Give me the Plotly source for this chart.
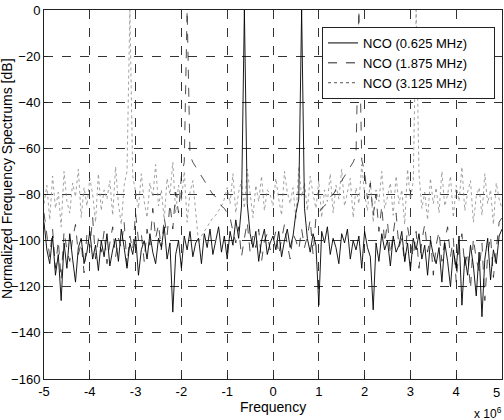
import numpy as np
import plotly.graph_objects as go

# frequency bins (Hz), step 62.5 kHz from -5 MHz to 5 MHz
freq_step_hz = 62500
n_bins = 161
freq_hz = [(-5e6 + i * freq_step_hz) for i in range(n_bins)]

nco_0625 = [
    -92, -104, -110, -98, -115, -106, -126, -101, -112, -97, -108, -118, -103, -99, -110, -105, -96, -108, -102, -113,
    -100, -107, -97, -111, -104, -99, -109, -95, -103, -112, -101, -106, -98, -115, -104, -100, -108, -97, -105, -110,
    -99, -103, -94, -108, -101, -131, -106, -100, -112, -98, -104, -96, -107, -101, -99, -110, -97, -103, -95, -106,
    -100, -94, -105, -98, -108, -96, -102, -91, -99, -85, 0, -84, -97, -103, -96, -109, -100, -95, -106, -101,
    -98, -104, -96, -107, -100, -95, -103, -98, -88, -82, 0, -86, -99, -105, -97, -102, -128, -96, -101, -94,
    -106, -99, -103, -110, -97, -101, -95, -108, -100, -104, -98, -112, -96, -103, -107, -130, -101, -109, -97, -104,
    -100, -111, -98, -105, -102, -96, -109, -101, -113, -99, -104, -97, -108, -102, -115, -100, -106, -110, -103, -118,
    -101, -109, -120, -104, -112, -98, -128, -107, -115, -102, -111, -124, -105, -133, -108, -99, -117, -104, -110, -98, -95,
]

nco_1875 = [
    -88, -98, -107, -95, -112, -100, -117, -96, -104, -109, -99, -93, -106, -101, -114, -97, -103, -90, -108, -99,
    -105, -96, -110, -101, -94, -107, -99, -103, -92, -111, -98, -104, -88, -100, -97, -109, -95, -102, -86, -99,
    -93, -104, -90, -98, -84, -95, -79, -88, -72, -66, 0, -63, -66, -68, -70, -72, -74, -76, -78, -80,
    -81, -83, -85, -86, -88, -90, -96, -101, -94, -107, -99, -92, -105, -98, -103, -95, -109, -100, -97, -104,
    -101, -96, -106, -99, -93, -102, -108, -97, -100, -104, -95, -103, -98, -91, -106, -90, -88, -86, -85, -83,
    -81, -80, -78, -76, -74, -72, -70, -68, -66, -63, 0, -65, -70, -82, -75, -89, -80, -96, -85, -101,
    -92, -106, -97, -88, -103, -99, -110, -94, -101, -107, -96, -112, -100, -93, -105, -98, -115, -102, -96, -109,
    -100, -94, -107, -99, -118, -103, -97, -111, -105, -121, -99, -108, -113, -101, -126, -106, -98, -116, -104, -92, -90,
]

nco_3125 = [
    -84, -76, -91, -72, -86, -79, -94, -70, -83, -88, -75, -81, -69, -90, -77, -85, -73, -80, -92, -71,
    -87, -78, -82, -74, -89, -68, -84, -93, -76, -70, 0, -72, -79, -86, -71, -83, -90, -75, -81, -67,
    -85, -78, -91, -73, -80, -66, -88, -76, -83, -70, -92, -79, -74, -86, -101, -98, -96, -94, -92, -90,
    -89, -87, -85, -82, -77, -84, -71, -88, -79, -74, -86, -69, -81, -90, -76, -83, -72, -87, -78, -80,
    -85, -73, -82, -89, -70, -79, -84, -77, -91, -68, -81, -75, -87, -72, -80, -86, -74, -90, -78, -83,
    -71, -88, -76, -82, -69, -85, -79, -73, -90, -77, -84, -67, -80, -87, -74, -92, -78, -83, -70, -86,
    -81, -75, -89, -72, -84, -78, -93, -69, -82, -74, 0, -71, -86, -79, -91, -73, -84, -77, -88, -70,
    -85, -80, -72, -90, -76, -83, -68, -87, -79, -74, -92, -81, -77, -89, -71, -84, -78, -93, -75, -82, -86,
]

series_names = ["NCO (0.625 MHz)", "NCO (1.875 MHz)", "NCO (3.125 MHz)"]
x_tick_vals = [-5e6, -4e6, -3e6, -2e6, -1e6, 0, 1e6, 2e6, 3e6, 4e6, 5e6]
x_tick_text = ["-5", "-4", "-3", "-2", "-1", "0", "1", "2", "3", "4", "5"]
y_tick_vals = [0, -20, -40, -60, -80, -100, -120, -140, -160]

FONT = "Liberation Sans, Arial, sans-serif"
PAD = "\u00a0" * 6  # right padding inside the legend box

fig = go.Figure()
fig.add_trace(go.Scatter(x=freq_hz, y=nco_3125, mode="lines", name=series_names[2],
                         line=dict(color="#8a8a8a", width=0.8, dash="dot"), showlegend=False))
fig.add_trace(go.Scatter(x=freq_hz, y=nco_1875, mode="lines", name=series_names[1],
                         line=dict(color="#222222", width=0.8, dash="dash"), showlegend=False))
fig.add_trace(go.Scatter(x=freq_hz, y=nco_0625, mode="lines", name=series_names[0],
                         line=dict(color="#000000", width=0.9), showlegend=False))
# legend entries in original order
fig.add_trace(go.Scatter(x=[None], y=[None], mode="lines", name=series_names[0] + PAD,
                         line=dict(color="#000000", width=1)))
fig.add_trace(go.Scatter(x=[None], y=[None], mode="lines", name=series_names[1] + PAD,
                         line=dict(color="#222222", width=1, dash="dash")))
fig.add_trace(go.Scatter(x=[None], y=[None], mode="lines", name=series_names[2] + PAD,
                         line=dict(color="#555555", width=1, dash="dot")))

axis_common = dict(
    showgrid=True, gridcolor="#333333", griddash="dash", gridwidth=0.8,
    showline=True, linecolor="#222222", linewidth=1, mirror=True,
    ticks="inside", ticklen=4, tickcolor="#222222",
    zeroline=False, tickfont=dict(family=FONT, size=13, color="black"),
)

fig.update_xaxes(range=[-5e6, 5e6], tickvals=x_tick_vals, ticktext=x_tick_text, **axis_common)
fig.update_yaxes(range=[-160, 0], tickvals=y_tick_vals, **axis_common)

fig.update_layout(
    width=504, height=420,
    margin=dict(l=44, r=2, t=10, b=41),
    paper_bgcolor="white", plot_bgcolor="white",
    font=dict(family=FONT, size=12, color="black"),
    legend=dict(x=0.607, y=0.954, xanchor="left", yanchor="top",
                bgcolor="white", bordercolor="#222222", borderwidth=1,
                font=dict(family=FONT, size=13, color="black"),
                tracegroupgap=0, itemwidth=30),
    annotations=[
        dict(text="Normalized Frequency Spectrums [dB]", x=-0.081, y=0.542,
             xref="paper", yref="paper", textangle=-90, showarrow=False,
             font=dict(family=FONT, size=14, color="black"),
             xanchor="center", yanchor="middle"),
        dict(text="Frequency", x=0.5, y=-0.076, xref="paper", yref="paper",
             showarrow=False, font=dict(family=FONT, size=14, color="black"),
             xanchor="center", yanchor="middle"),
        dict(text="x 10<sup>6</sup>", x=0.97, y=-0.092, xref="paper", yref="paper",
             showarrow=False, font=dict(family=FONT, size=12, color="black"),
             xanchor="center", yanchor="middle"),
        # last x tick label sits on the right edge (the axis hides it past the page)
        dict(text=x_tick_text[-1], x=1.0, y=-0.036, xref="paper", yref="paper",
             showarrow=False, font=dict(family=FONT, size=13, color="black"),
             xanchor="right", yanchor="middle"),
    ],
)

# remove the default 8px page margin so the figure fills the 504x420 window
fig.write_html("out.html", config={"displayModeBar": False},
               post_script="document.body.style.margin='0';")
